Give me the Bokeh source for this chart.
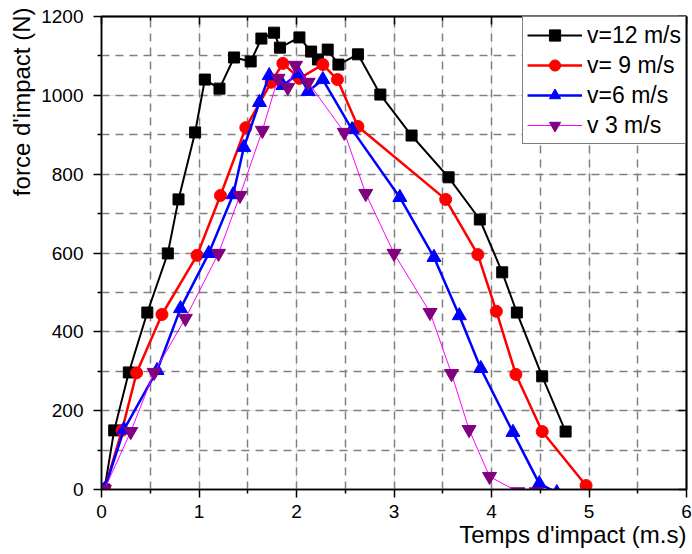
import numpy as np
from bokeh.plotting import figure
from bokeh.models import Range1d, LinearAxis, FixedTicker, Legend, Grid, Title
from bokeh.embed import file_html
from bokeh.resources import INLINE

# ---- data ----
t12 = [0.03, 0.13, 0.28, 0.47, 0.68, 0.79, 0.96, 1.06, 1.21, 1.36, 1.53, 1.64, 1.77, 1.83,
       2.03, 2.15, 2.22, 2.32, 2.43, 2.63, 2.86, 3.18, 3.56, 3.88, 4.11, 4.26, 4.52, 4.76]
f12 = [0, 150, 297, 449, 599, 736, 906, 1040, 1017, 1096, 1086, 1144, 1159, 1121,
       1147, 1111, 1091, 1116, 1078, 1104, 1002, 898, 792, 685, 551, 449, 287, 147]

t9 = [0.03, 0.21, 0.36, 0.62, 0.98, 1.22, 1.48, 1.74, 1.86, 2.03, 2.27, 2.42, 2.63,
      3.53, 3.86, 4.05, 4.25, 4.52, 4.97]
f9 = [0, 150, 296, 444, 594, 746, 918, 1033, 1081, 1043, 1078, 1040, 921,
      736, 596, 452, 292, 147, 10]

t6 = [0.03, 0.23, 0.57, 0.81, 1.10, 1.35, 1.46, 1.62, 1.72, 1.86, 2.02, 2.12, 2.27,
      2.57, 3.06, 3.41, 3.67, 3.89, 4.22, 4.49, 4.67]
f6 = [0, 152, 302, 459, 599, 748, 868, 982, 1050, 1025, 1055, 1010, 1040,
      913, 741, 589, 441, 307, 145, 15, -8]

t3 = [0.03, 0.30, 0.54, 0.86, 1.20, 1.42, 1.65, 1.81, 1.91, 1.99, 2.12, 2.49, 2.71,
      3.00, 3.37, 3.59, 3.77, 3.98, 4.27, 4.46]
f3 = [0, 147, 297, 434, 599, 746, 911, 1043, 1020, 1076, 1033, 906, 751,
      599, 449, 294, 152, 33, -6, -6]

labels = ["v=12 m/s", "v= 9 m/s", "v=6 m/s", "v 3 m/s"]
x_major = [0, 1, 2, 3, 4, 5, 6]
x_minor = [0.5, 1.5, 2.5, 3.5, 4.5, 5.5]
y_major = [0, 200, 400, 600, 800, 1000, 1200]
y_minor = [100, 300, 500, 700, 900, 1100]
x_title = "Temps d'impact (m.s)"
y_title = "force d'impact (N)"

FONT = "Liberation Sans"

p = figure(width=692, height=554, output_backend="svg", toolbar_location=None,
           x_range=Range1d(0, 6), y_range=Range1d(0, 1200),
           min_border_left=101, min_border_right=6, min_border_top=16, min_border_bottom=65,
           x_axis_location=None, y_axis_location=None)
p.background_fill_color = "white"
p.border_fill_color = "white"
p.outline_line_color = "black"
p.outline_line_width = 1.5


def style(ax):
    ax.axis_line_color = "black"
    ax.axis_line_width = 1.5
    ax.major_tick_line_color = "black"
    ax.minor_tick_line_color = "black"
    ax.major_tick_line_width = 1.5
    ax.minor_tick_line_width = 1.5
    ax.major_label_text_font = FONT
    ax.major_label_text_color = "black"


def main_axis(ticks, minor, side, standoff):
    ax = LinearAxis(ticker=FixedTicker(ticks=ticks, minor_ticks=minor))
    style(ax)
    ax.major_tick_out = 8
    ax.major_tick_in = 0
    ax.minor_tick_out = 4
    ax.minor_tick_in = 0
    ax.major_label_text_font_size = "19px"
    ax.major_label_standoff = standoff
    p.add_layout(ax, side)
    return ax


def mirror_axis(tick_list, length, side):
    # inward ticks only, no labels (mirrored frame ticks)
    ax = LinearAxis(ticker=FixedTicker(ticks=[], minor_ticks=tick_list))
    style(ax)
    ax.major_tick_out = 0
    ax.major_tick_in = 0
    ax.minor_tick_out = 0
    ax.minor_tick_in = length
    ax.major_label_standoff = 0
    p.add_layout(ax, side)
    return ax


main_axis(x_major, x_minor, "below", 7)
main_axis(y_major, y_minor, "left", 10)
mirror_axis(x_major, 8, "above")
mirror_axis(x_minor, 4, "above")
mirror_axis(y_major, 8, "right")
mirror_axis(y_minor, 4, "right")

# axis titles (as side-panel titles so they are not clipped to the frame)
xt = Title(text=x_title, align="right", vertical_align="top", standoff=0, offset=0,
           text_font=FONT, text_font_size="24px", text_font_style="normal",
           text_color="black")
p.add_layout(xt, "below")
yt = Title(text=y_title, align="right", vertical_align="bottom", standoff=8, offset=-9,
           text_font=FONT, text_font_size="24px", text_font_style="normal",
           text_color="black")
p.add_layout(yt, "left")

# grid
gx = Grid(dimension=0, ticker=FixedTicker(ticks=x_minor + x_major[1:-1]))
gy = Grid(dimension=1, ticker=FixedTicker(ticks=y_minor + y_major[1:-1]))
for g in (gx, gy):
    g.grid_line_color = "#808080"
    g.grid_line_width = 1.5
    g.grid_line_dash = "8 6"
    p.add_layout(g)

series = [
    (t12, f12, "black", 2, "square", "black", 11, labels[0]),
    (t9, f9, "red", 2.5, "circle", "red", 12, labels[1]),
    (t6, f6, "blue", 2.5, "triangle", "blue", 14, labels[2]),
    (t3, f3, "#FF00FF", 1, "inverted_triangle", "#800080", 14, labels[3]),
]
items = []
for xs, ys, lc, lw, mk, mc, ms, lab in series:
    r1 = p.line(xs, ys, line_color=lc, line_width=lw)
    r2 = p.scatter(xs, ys, marker=mk, size=ms, fill_color=mc, line_color=mc)
    items.append((lab, [r1, r2]))

legend = Legend(items=items, location="top_right")
legend.margin = 0
legend.padding = 4
legend.spacing = 2
legend.glyph_width = 55
legend.glyph_height = 28
legend.label_height = 28
legend.label_standoff = 5
legend.label_text_font = FONT
legend.label_text_font_size = "23px"
legend.label_text_color = "black"
legend.border_line_color = "black"
legend.border_line_width = 1.5
legend.background_fill_color = "white"
legend.background_fill_alpha = 1.0
p.add_layout(legend, "center")

open("out.html", "w").write(file_html(p, INLINE))
